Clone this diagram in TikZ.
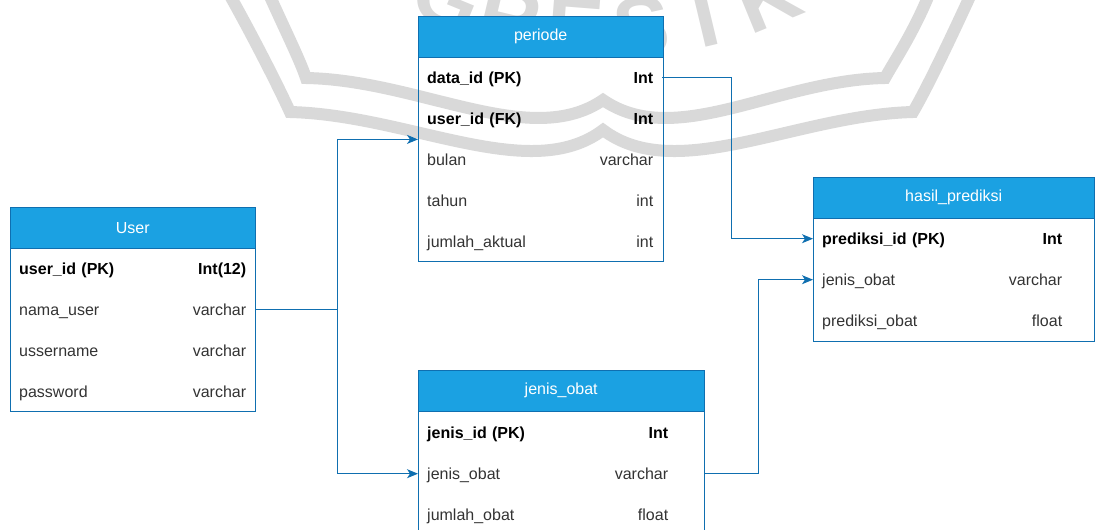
\documentclass[tikz,border=0pt]{standalone}
\usepackage{fontspec}
\setmainfont{Liberation Sans}
\usetikzlibrary{arrows.meta}

\definecolor{hdrblue}{HTML}{1BA1E2}
\definecolor{edgeblue}{HTML}{0F6FB0}
\definecolor{wmgray}{HTML}{D9D9D9}
\newcommand{\fieldrow}[2]{\noindent#1\hskip 0pt plus 1filll\relax#2}
\newcommand{\keyf}[1]{\textbf{\color{black}#1}}

\begin{document}
\begin{tikzpicture}[x=1pt, y=-1pt, every node/.style={font=\fontsize{16}{19}\selectfont},
	>={Stealth[length=11pt, width=9pt, inset=3pt]},
	hdr/.style={draw=edgeblue, fill=hdrblue, text=white, anchor=north west, minimum height=41pt, inner sep=0pt},
	tbl/.style={draw=edgeblue, anchor=north west, inner sep=0pt},
	row/.style={anchor=north west, text width=#1, inner xsep=9pt, inner ysep=0pt, text height=26.2pt, text depth=14.8pt, text=black!80},
	link/.style={->, draw=edgeblue, line width=1pt},
	wmband/.style={draw=wmgray, line width=12pt},
	wmletter/.style={anchor=base, inner sep=0pt, text=wmgray, font=\fontsize{85}{85}\selectfont\bfseries}]
	\useasboundingbox (0,0) rectangle (1095,530);
	\clip (0,0) rectangle (1095,530);
	% watermark
	\draw[wmband] (228,-8) .. controls (255,40) and (280,90) .. (290,112) .. controls (410,115) and (530,185) .. (603,130)
		.. controls (676,185) and (796,115) .. (913,112) .. controls (926,90) and (950,40) .. (972,-8);
	\draw[wmband] (268,-8) .. controls (285,30) and (300,60) .. (306,78) .. controls (420,80) and (530,150) .. (603,100)
		.. controls (676,150) and (776,80) .. (885,78) .. controls (895,60) and (915,30) .. (930,-8);
	\foreach \c/\p in {G/-22.3, R/-13.4, E/-4.5, S/4.5, I/13.4, K/22.3}
		\node[wmletter, rotate=\p] (wm-\c) at ({608+450*sin(\p)}, {-392+450*cos(\p)}) {\c};
	% tables
	\node[hdr, minimum width=245pt] (user) at (10,207) {User};
	\node[tbl, minimum width=245pt, minimum height=163pt] (user-body) at (user.south west) {};
	\foreach \n/\a/\b [count=\i] in {id/\keyf{user\_id (PK)}/\keyf{Int(12)}, nama/nama\_user/varchar, uname/ussername/varchar, pass/password/varchar}
		\node[row=227pt] (user-\n) at (10,{248+41*(\i-1)}) {\fieldrow{\a}{\b}};
	\node[hdr, minimum width=245pt] (periode) at (418,16) {periode};
	\node[tbl, minimum width=245pt, minimum height=204pt] (periode-body) at (periode.south west) {};
	\foreach \n/\a/\b [count=\i] in {data/\keyf{data\_id (PK)}/\keyf{Int}, user/\keyf{user\_id (FK)}/\keyf{Int}, bulan/bulan/varchar, tahun/tahun/int, jumlah/jumlah\_aktual/int}
		\node[row=226pt] (per-\n) at (418,{57+41*(\i-1)}) {\fieldrow{\a}{\b}};
	\node[hdr, minimum width=281pt] (hasil) at (813,177) {hasil\_prediksi};
	\node[tbl, minimum width=281pt, minimum height=123pt] (hasil-body) at (hasil.south west) {};
	\foreach \n/\a/\b [count=\i] in {id/\keyf{prediksi\_id (PK)}/\keyf{Int}, obat/jenis\_obat/varchar, pred/prediksi\_obat/float}
		\node[row=240pt] (has-\n) at (813,{218+41*(\i-1)}) {\fieldrow{\a}{\b}};
	\node[hdr, minimum width=286pt] (jenis) at (418,370) {jenis\_obat};
	\node[tbl, minimum width=286pt, minimum height=160pt] (jenis-body) at (jenis.south west) {};
	\foreach \n/\a/\b [count=\i] in {id/\keyf{jenis\_id (PK)}/\keyf{Int}, obat/jenis\_obat/varchar, jumlah/jumlah\_obat/float}
		\node[row=241pt] (jen-\n) at (418,{412+41*(\i-1)}) {\fieldrow{\a}{\b}};
	% relations
	\draw[link] (user-nama.east) -- ++(82,0) |- (per-user.south west);
	\draw[link] (user-nama.east) -- ++(82,0) |- (jen-obat.west);
	\draw[link] (per-data.east) -- ++(69,0) |- (has-id.west);
	\draw[link] (jenis-body.east |- jen-obat) -- ++(54,0) |- (has-obat.west);
\end{tikzpicture}
\end{document}
